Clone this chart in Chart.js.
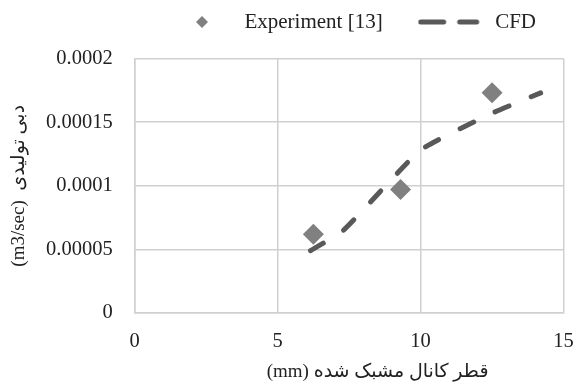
<!DOCTYPE html>
<html>
<head>
<meta charset="utf-8">
<title>Flow rate vs channel diameter</title>
<script src="https://cdn.jsdelivr.net/npm/chart.js@4.4.1/dist/chart.umd.min.js"></script>
<style>
  body { margin: 0; background: #fff; }
  canvas { display: block; }
</style>
</head>
<body>
<canvas id="flowChart" width="574" height="387"></canvas>
<script>
// experiment points (diameter mm, flow m3/sec)
const expDiameter = [6.25, 9.3, 12.5];
const expFlow = [0.000062, 0.000097, 0.000173];

// CFD curve
const cfdDiameter = [6.15, 7.3, 10, 12.5, 14.2];
const cfdFlow = [0.000049, 0.000065, 0.000128, 0.000157, 0.000173];

const xTicks = [0, 5, 10, 15];
const yTicks = [0, 0.00005, 0.0001, 0.00015, 0.0002];
const yTickLabels = ["0", "0.00005", "0.0001", "0.00015", "0.0002"];

const seriesNames = ["Experiment [13]", "CFD"];
// the em spaces push the title a bit right of the axis centre, like the original
const xTitle = "\u2003\u2003\u2003(mm) قطر کانال مشبک شده";
const yTitle = "(m3/sec)  دبی تولیدی";

const serif = "'Liberation Serif', 'DejaVu Sans', serif";
const textColor = "#222";
const gridColor = "#d0d0d0";
const noTick = "rgba(0,0,0,0)";

// little pictures for the legend markers
function diamondIcon() {
  const c = document.createElement("canvas");
  c.width = 14;
  c.height = 14;
  const ctx = c.getContext("2d");
  ctx.fillStyle = "#808080";
  ctx.beginPath();
  ctx.moveTo(7, 1);
  ctx.lineTo(13, 7);
  ctx.lineTo(7, 13);
  ctx.lineTo(1, 7);
  ctx.closePath();
  ctx.fill();
  return c;
}

// dashes sit in the left part so the sample lands a little left of the box centre
function dashIcon() {
  const c = document.createElement("canvas");
  c.width = 70;
  c.height = 8;
  const ctx = c.getContext("2d");
  ctx.strokeStyle = "#595959";
  ctx.lineWidth = 5;
  ctx.lineCap = "round";
  ctx.setLineDash([23, 16]);
  ctx.beginPath();
  ctx.moveTo(3, 4);
  ctx.lineTo(59, 4);
  ctx.stroke();
  return c;
}

const legendIcons = [diamondIcon(), dashIcon()];

new Chart(document.getElementById("flowChart"), {
  type: "scatter",
  data: {
    datasets: [
      {
        label: seriesNames[0],
        data: expDiameter.map((x, i) => ({ x: x, y: expFlow[i] })),
        pointStyle: "rectRot",
        pointRadius: 10.5,
        pointHoverRadius: 10.5,
        backgroundColor: "#808080",
        borderWidth: 0,
        order: 1,
      },
      {
        label: seriesNames[1],
        data: cfdDiameter.map((x, i) => ({ x: x, y: cfdFlow[i] })),
        showLine: true,
        borderColor: "#595959",
        borderWidth: 5,
        borderDash: [15, 24],
        borderCapStyle: "round",
        tension: 0.15,
        pointRadius: 0,
        pointHoverRadius: 0,
        order: 0,
      },
    ],
  },
  options: {
    responsive: false,
    animation: false,
    layout: { padding: { top: -26.5, left: 0, right: 0, bottom: 0 } },
    plugins: {
      legend: {
        align: "end",
        labels: {
          usePointStyle: true,
          pointStyleWidth: 64,
          padding: 38,
          color: textColor,
          font: { family: serif, size: 21 },
          generateLabels: () =>
            seriesNames.map((name, i) => ({
              text: name,
              pointStyle: legendIcons[i],
              fillStyle: "#808080",
              strokeStyle: "#595959",
              lineWidth: 0,
              hidden: false,
              datasetIndex: i,
              fontColor: textColor,
            })),
        },
      },
      // empty subtitle only keeps a gap under the legend
      subtitle: {
        display: true,
        text: "",
        weight: 900,
        font: { size: 12, lineHeight: 1 },
        padding: { top: 0, bottom: 4 },
      },
      tooltip: { enabled: false },
    },
    scales: {
      x: {
        type: "linear",
        min: 0,
        max: 15,
        afterBuildTicks: (scale) => {
          scale.ticks = xTicks.map((v) => ({ value: v }));
        },
        // invisible tick marks give the gap below the axis
        grid: { color: gridColor, lineWidth: 1.5, drawTicks: true, tickLength: 16, tickColor: noTick },
        border: { color: gridColor, width: 1.5 },
        ticks: {
          padding: 0,
          color: textColor,
          font: { family: serif, size: 20.5 },
        },
        title: {
          display: true,
          text: xTitle,
          color: textColor,
          font: { family: serif, size: 19 },
          padding: { top: 6.5, bottom: 4 },
        },
      },
      y: {
        type: "linear",
        min: 0,
        max: 0.0002,
        afterBuildTicks: (scale) => {
          scale.ticks = yTicks.map((v) => ({ value: v }));
        },
        grid: { color: gridColor, lineWidth: 1.5, drawTicks: true, tickLength: 22, tickColor: noTick },
        border: { color: gridColor, width: 1.5 },
        ticks: {
          padding: 0,
          color: textColor,
          font: { family: serif, size: 20.5 },
          callback: (value, index) => yTickLabels[index],
        },
        title: {
          display: true,
          text: yTitle,
          color: textColor,
          font: { family: serif, size: 19 },
          padding: { top: 7.6, bottom: 15.7 },
        },
      },
    },
  },
});
</script>
</body>
</html>
